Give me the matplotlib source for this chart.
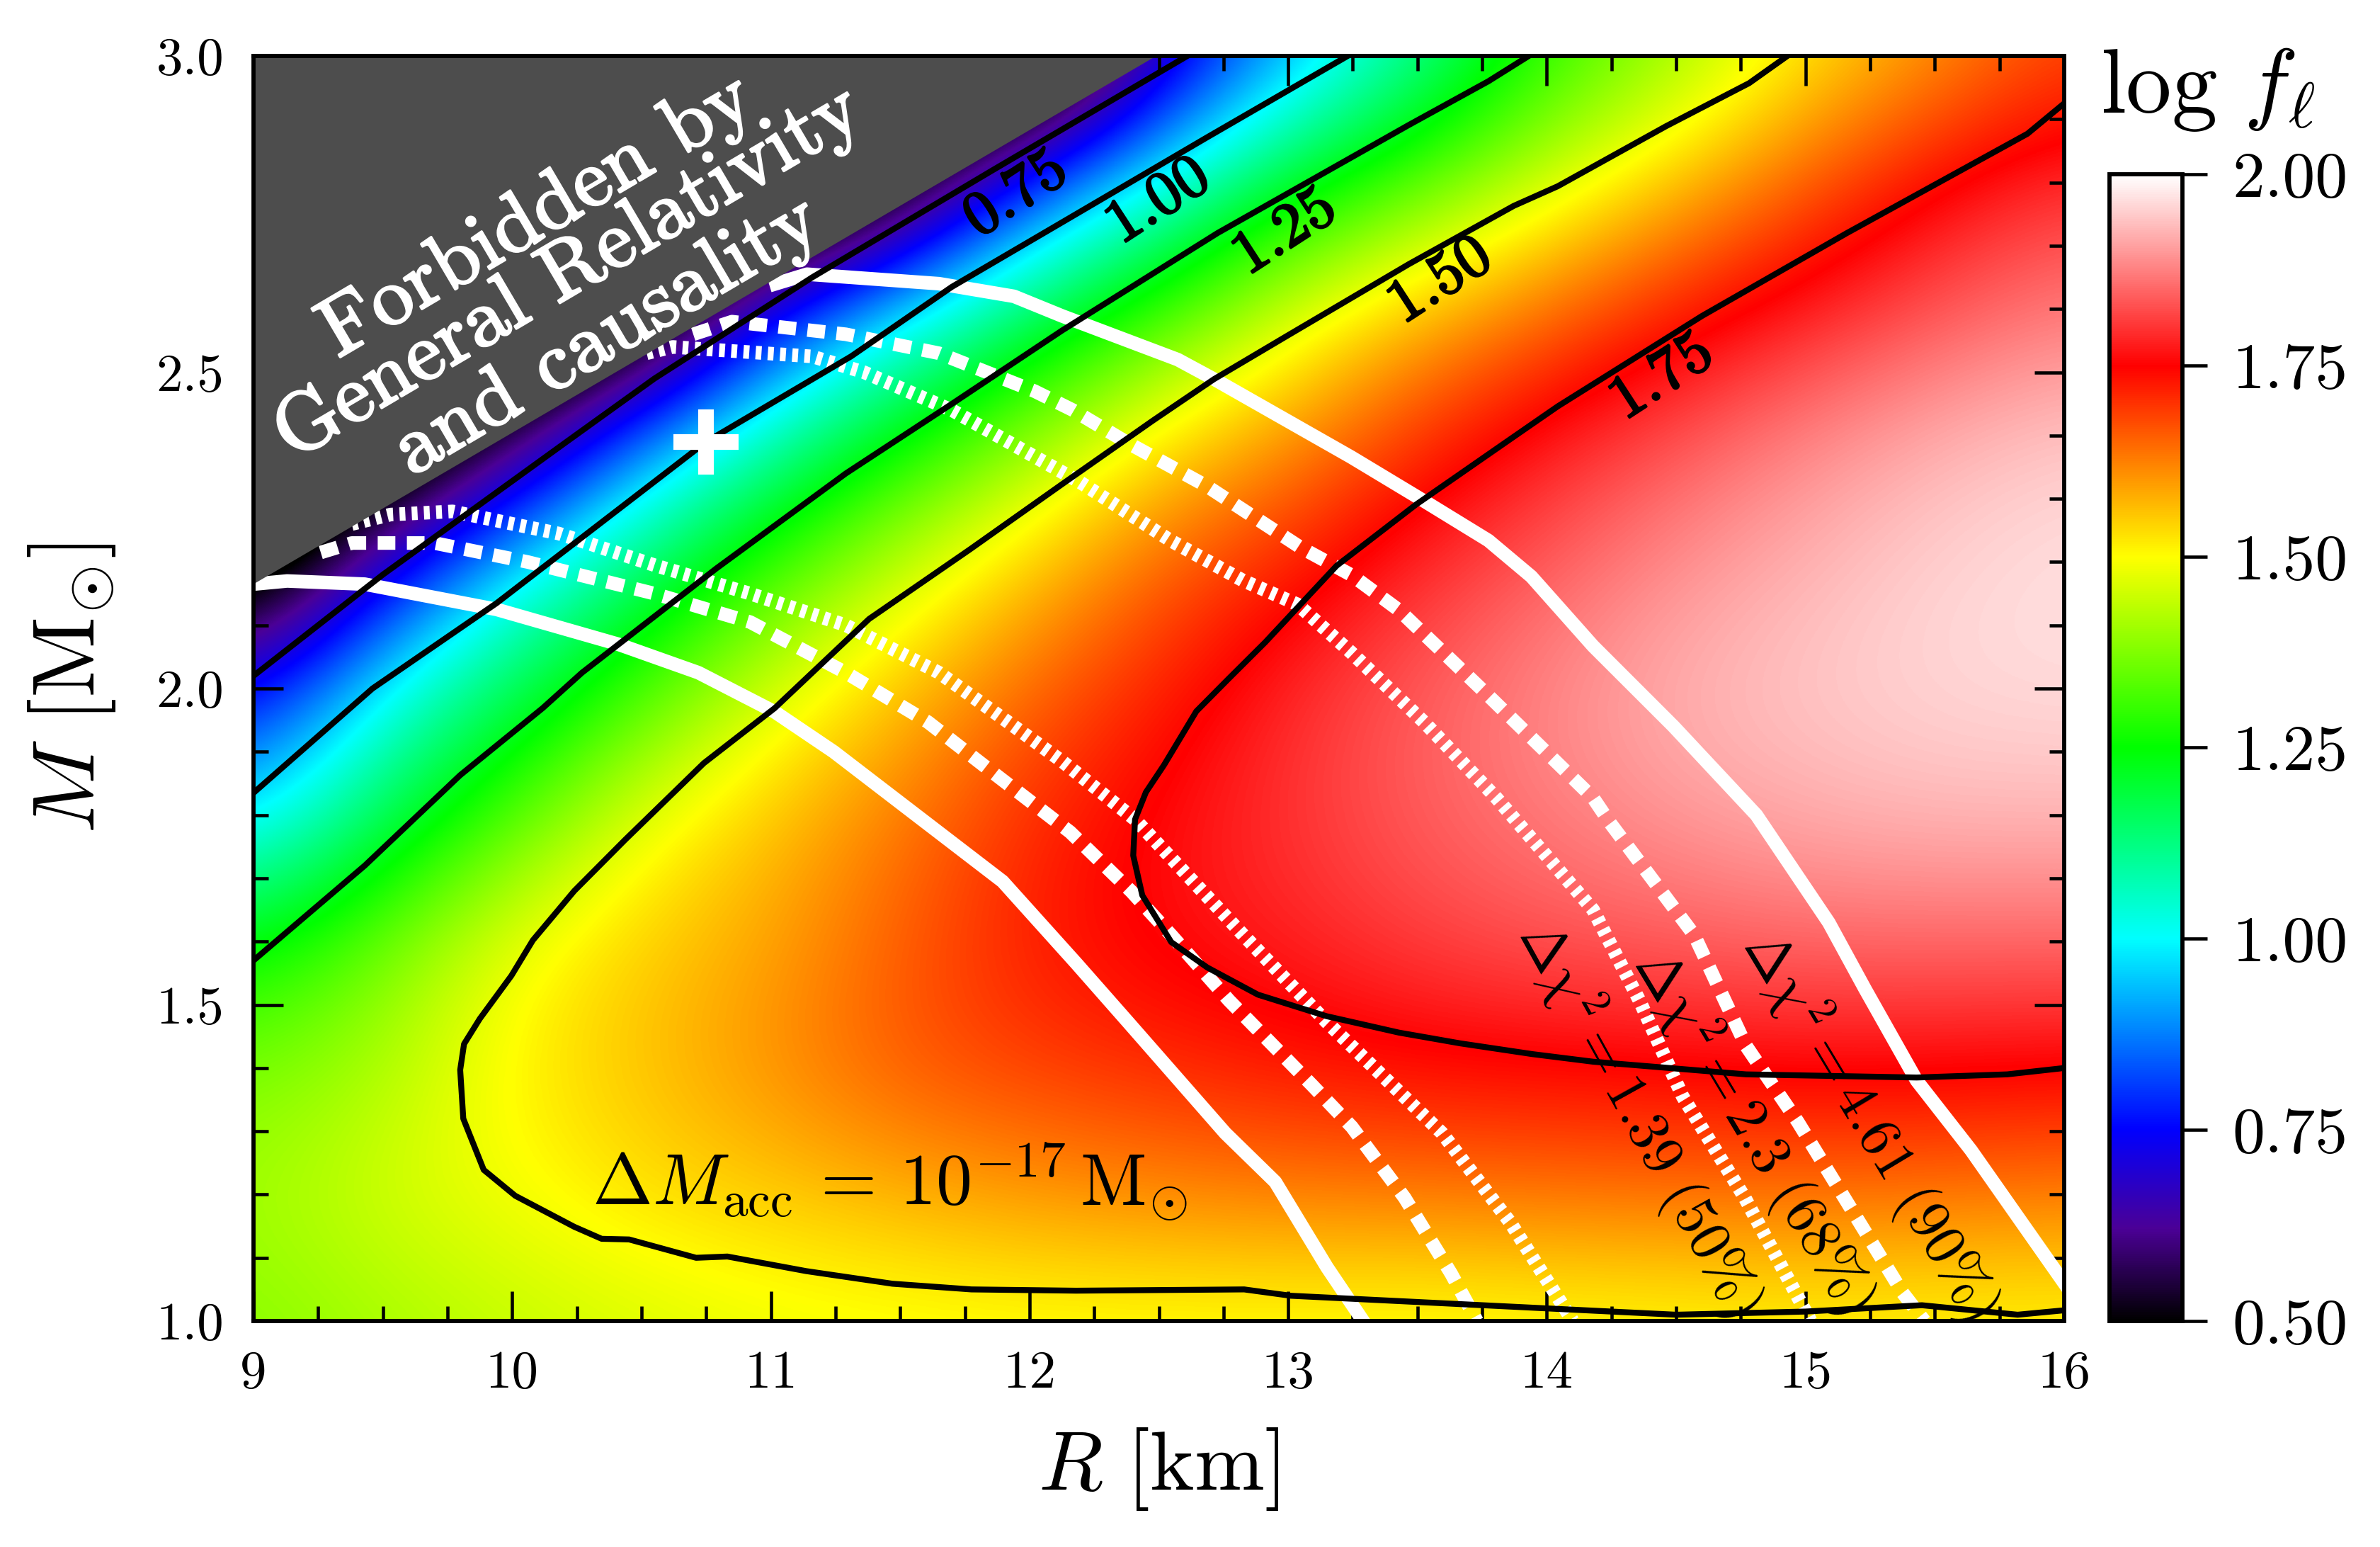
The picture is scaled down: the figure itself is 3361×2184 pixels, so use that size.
import matplotlib
matplotlib.use("Agg")
import matplotlib.pyplot as plt
import matplotlib.patheffects as pe
import numpy as np
from matplotlib.colors import LinearSegmentedColormap
from matplotlib.ticker import MultipleLocator

plt.rcParams["font.family"] = ["cmr10"]
plt.rcParams["mathtext.fontset"] = "cm"
plt.rcParams["axes.formatter.use_mathtext"] = True
plt.rcParams["axes.unicode_minus"] = False

# log f_l, rows go from M=1.0 up to M=3.0
# cells under the grey wedge are guesses that only set the slope towards its edge
radius_grid = [9, 9.5, 10, 10.5, 11, 11.5, 12, 12.5, 13, 13.5, 14, 14.5, 15, 15.5, 16]
mass_grid = [1.0, 1.2, 1.4, 1.6, 1.8, 2.0, 2.2, 2.4, 2.6, 2.8, 3.0]
log_f = [
    [1.38, 1.41, 1.44, 1.46, 1.48, 1.485, 1.49, 1.49, 1.49, 1.485, 1.49, 1.495, 1.50, 1.50, 1.50],
    [1.41, 1.46, 1.49, 1.53, 1.55, 1.575, 1.60, 1.615, 1.625, 1.63, 1.635, 1.64, 1.64, 1.635, 1.625],
    [1.37, 1.42, 1.515, 1.56, 1.61, 1.665, 1.69, 1.71, 1.73, 1.74, 1.745, 1.75, 1.755, 1.755, 1.75],
    [1.24, 1.36, 1.49, 1.55, 1.59, 1.66, 1.725, 1.76, 1.78, 1.81, 1.83, 1.84, 1.85, 1.85, 1.85],
    [0.97, 1.17, 1.33, 1.48, 1.56, 1.63, 1.71, 1.76, 1.80, 1.84, 1.87, 1.90, 1.92, 1.93, 1.93],
    [0.74, 1.01, 1.17, 1.32, 1.46, 1.56, 1.65, 1.72, 1.79, 1.84, 1.885, 1.925, 1.945, 1.96, 1.965],
    [0.35, 0.70, 0.97, 1.15, 1.31, 1.44, 1.55, 1.65, 1.72, 1.79, 1.84, 1.89, 1.925, 1.955, 1.97],
    [0.20, 0.30, 0.55, 0.87, 1.08, 1.25, 1.39, 1.52, 1.60, 1.70, 1.775, 1.83, 1.88, 1.92, 1.945],
    [0.20, 0.20, 0.20, 0.35, 0.75, 0.97, 1.16, 1.31, 1.46, 1.56, 1.64, 1.72, 1.78, 1.83, 1.87],
    [0.20, 0.20, 0.20, 0.20, 0.20, 0.45, 0.81, 1.02, 1.22, 1.34, 1.46, 1.56, 1.66, 1.75, 1.80],
    [0.20, 0.20, 0.20, 0.20, 0.20, 0.20, 0.25, 0.66, 0.91, 1.10, 1.29, 1.40, 1.52, 1.60, 1.68],
]

cmap_levels = [0.50, 0.62, 0.75, 1.00, 1.25, 1.50, 1.75, 2.00]
cmap_colors = ["#000000", "#4b0096", "#0000ff", "#00ffff", "#00ff00", "#ffff00", "#ff0000", "#ffffff"]

# black contours of log f_l
c075_r = [9.00, 9.50, 10.21, 10.55, 11.16, 11.86, 12.61]
c075_m = [2.02, 2.18, 2.39, 2.49, 2.65, 2.82, 3.00]
c100_r = [9.00, 9.46, 9.94, 10.75, 11.31, 11.70, 12.126, 12.685, 13.23]
c100_m = [1.835, 2.00, 2.135, 2.39, 2.525, 2.635, 2.737, 2.871, 3.00]
c125_r = [9.00, 9.43, 9.799, 10.118, 10.27, 10.79, 11.29, 11.70, 12.126, 12.727, 13.467, 13.774, 13.93]
c125_m = [1.57, 1.72, 1.863, 1.969, 2.025, 2.19, 2.34, 2.45, 2.566, 2.72, 2.891, 2.96, 3.00]
c150_r = [14.93, 14.782, 14.461, 14.042, 13.872, 13.467, 13.006, 12.713, 12.475, 12.126, 11.77, 11.38, 11.015,
          10.741, 10.437, 10.24, 10.08, 9.997, 9.875, 9.814, 9.799, 9.811, 9.89, 10.012, 10.24, 10.346, 10.452,
          10.711, 10.832, 11.136, 11.47, 11.775, 12.18, 12.83, 13.01, 14.00, 14.50, 15.00, 15.45, 15.82, 16.00]
c150_m = [3.00, 2.957, 2.889, 2.794, 2.763, 2.671, 2.56, 2.489, 2.423, 2.323, 2.22, 2.11, 1.969,
          1.882, 1.761, 1.68, 1.602, 1.546, 1.478, 1.438, 1.397, 1.32, 1.239, 1.198, 1.149, 1.13, 1.129,
          1.10, 1.102, 1.079, 1.059, 1.05, 1.048, 1.05, 1.04, 1.02, 1.01, 1.015, 1.025, 1.01, 1.017]
c175_r = [16.00, 15.858, 15.16, 14.60, 14.042, 13.858, 13.495, 13.187, 12.911, 12.771, 12.645, 12.52, 12.45, 12.408,
          12.401, 12.436, 12.548, 12.687, 12.883, 13.148, 13.428, 13.665, 13.944, 14.179, 14.77, 15.43, 15.78, 16.00]
c175_m = [2.925, 2.877, 2.72, 2.589, 2.446, 2.394, 2.291, 2.194, 2.073, 2.016, 1.964, 1.879, 1.836, 1.793,
          1.736, 1.673, 1.599, 1.559, 1.516, 1.482, 1.456, 1.439, 1.422, 1.41, 1.39, 1.385, 1.39, 1.40]
contour_labels = ["0.75", "1.00", "1.25", "1.50", "1.75"]
contour_label_r = [11.95, 12.50, 12.99, 13.59, 14.447]
contour_label_m = [2.78, 2.769, 2.72, 2.643, 2.491]

# white confidence contours, upper and lower branches
solid_up_r = [11.02, 11.14, 11.65, 11.94, 12.126, 12.573, 12.727, 13.243, 13.523, 13.774, 13.94, 14.179, 14.49, 14.81, 15.09, 15.23, 15.43, 15.64, 16.00]
solid_up_m = [2.64, 2.655, 2.64, 2.62, 2.589, 2.52, 2.486, 2.366, 2.297, 2.234, 2.177, 2.067, 1.94, 1.80, 1.63, 1.525, 1.38, 1.27, 1.06]
solid_lo_r = [9.00, 9.13, 9.43, 9.94, 10.41, 10.72, 11.015, 11.243, 11.638, 11.896, 12.182, 12.38, 12.757, 12.95, 13.15, 13.29]
solid_lo_m = [2.165, 2.17, 2.165, 2.125, 2.07, 2.025, 1.963, 1.90, 1.776, 1.695, 1.565, 1.473, 1.297, 1.22, 1.085, 1.00]
dash_up_r = [10.70, 10.85, 11.29, 11.65, 12.02, 12.168, 12.377, 12.685, 13.048, 13.246, 13.428, 13.763, 14.179, 14.24, 14.57, 14.77, 14.97, 15.375, 15.46]
dash_up_m = [2.56, 2.58, 2.56, 2.53, 2.47, 2.44, 2.389, 2.32, 2.223, 2.179, 2.124, 1.993, 1.827, 1.79, 1.61, 1.435, 1.315, 1.045, 1.00]
dash_lo_r = [9.26, 9.38, 9.70, 10.06, 10.55, 10.92, 11.29, 11.607, 11.881, 12.157, 12.394, 12.548, 12.771, 13.092, 13.246, 13.45, 13.63, 13.73]
dash_lo_m = [2.215, 2.23, 2.23, 2.20, 2.15, 2.105, 2.025, 1.947, 1.86, 1.773, 1.679, 1.61, 1.507, 1.373, 1.307, 1.195, 1.075, 1.00]
dot_up_r = [10.52, 10.62, 11.16, 11.36, 11.70, 12.196, 12.545, 12.824, 13.036, 13.246, 13.525, 13.805, 14.179, 14.36, 14.525, 14.765, 15.02]
dot_up_m = [2.53, 2.54, 2.525, 2.50, 2.44, 2.326, 2.234, 2.171, 2.133, 2.056, 1.947, 1.827, 1.65, 1.505, 1.355, 1.195, 1.00]
dot_lo_r = [9.38, 9.53, 9.77, 10.18, 10.55, 10.92, 11.29, 11.65, 11.927, 12.129, 12.408, 12.827, 13.148, 13.595, 13.86, 14.10]
dot_lo_m = [2.26, 2.275, 2.28, 2.245, 2.195, 2.15, 2.10, 2.025, 1.944, 1.884, 1.793, 1.61, 1.473, 1.297, 1.155, 1.00]

forbidden_r = [9, 12.49, 9]
forbidden_m = [2.165, 3.0, 3.0]
best_r = [10.75]
best_m = [2.39]

x_ticks = [9, 10, 11, 12, 13, 14, 15, 16]
y_ticks = [1.0, 1.5, 2.0, 2.5, 3.0]
cbar_ticks = [0.50, 0.75, 1.00, 1.25, 1.50, 1.75, 2.00]

W, H = 3361, 2184
fig = plt.figure(figsize=(W / 300, H / 300), dpi=300)
ax = fig.add_axes([358 / W, 1 - 1865 / H, (2915 - 358) / W, (1865 - 79) / H])
cax = fig.add_axes([2979 / W, 1 - 1865 / H, (3082 - 2979) / W, (1865 - 246) / H])

cmap = LinearSegmentedColormap.from_list(
    "logf", [((v - 0.5) / 1.5, c) for v, c in zip(cmap_levels, cmap_colors)], N=512)

dr = radius_grid[1] - radius_grid[0]
dm = mass_grid[1] - mass_grid[0]
im = ax.imshow(np.array(log_f), origin="lower", aspect="auto", cmap=cmap, vmin=0.5, vmax=2.0,
               interpolation="bicubic",
               extent=(radius_grid[0] - dr / 2, radius_grid[-1] + dr / 2,
                       mass_grid[0] - dm / 2, mass_grid[-1] + dm / 2))

white_lw = 4.6
ax.plot(solid_up_r, solid_up_m, color="white", lw=white_lw, zorder=3)
ax.plot(solid_lo_r, solid_lo_m, color="white", lw=white_lw, zorder=3)
dash_style = (0, (1.3, 0.85))
ax.plot(dash_up_r, dash_up_m, color="white", lw=white_lw, ls=dash_style, dash_capstyle="butt", zorder=3)
ax.plot(dash_lo_r, dash_lo_m, color="white", lw=white_lw, ls=dash_style, dash_capstyle="butt", zorder=3)
dot_style = (0, (0.43, 0.47))
ax.plot(dot_up_r, dot_up_m, color="white", lw=white_lw, ls=dot_style, dash_capstyle="butt", zorder=3)
ax.plot(dot_lo_r, dot_lo_m, color="white", lw=white_lw, ls=dot_style, dash_capstyle="butt", zorder=3)

ax.fill(forbidden_r, forbidden_m, color="#4d4d4d", lw=0, zorder=4)

for r, m in [(c075_r, c075_m), (c100_r, c100_m), (c125_r, c125_m), (c150_r, c150_m), (c175_r, c175_m)]:
    ax.plot(r, m, color="black", lw=2.0, zorder=5)

ax.plot(best_r, best_m, marker="+", ms=22, mew=5.3, color="white", ls="none", zorder=6)

for lab, r, m in zip(contour_labels, contour_label_r, contour_label_m):
    ax.text(r, m, lab, fontsize=21, rotation=33, ha="center", va="center", zorder=7,
            path_effects=[pe.withStroke(linewidth=0.7, foreground="black")])

for txt, r, m in [("Forbidden by", 10.10, 2.745), ("General Relativity", 10.22, 2.655), ("and causality", 10.37, 2.555)]:
    ax.text(r, m, txt, color="white", fontsize=28, rotation=30.5, ha="center", va="center",
            rotation_mode="anchor", zorder=7,
            path_effects=[pe.withStroke(linewidth=0.8, foreground="white")])

for txt, r, m, rot in [(r"$\Delta\chi^2=1.39\ (50\%)$", 14.36, 1.32, -61),
                       (r"$\Delta\chi^2=2.3\ (68\%)$", 14.80, 1.30, -59),
                       (r"$\Delta\chi^2=4.61\ (90\%)$", 15.25, 1.31, -59)]:
    ax.text(r, m, txt, fontsize=19.5, rotation=rot, ha="center", va="center", rotation_mode="anchor", zorder=7)

ax.text(11.46, 1.22, r"$\Delta M_{\rm acc}\,=\,10^{-17}\,{\rm M}_{\odot}$", fontsize=24.5,
        ha="center", va="center", zorder=7)

ax.set_xlim(9, 16)
ax.set_ylim(1, 3)
ax.set_xticks(x_ticks)
ax.set_xticklabels([str(t) for t in x_ticks])
ax.set_yticks(y_ticks)
ax.set_yticklabels([f"{t:.1f}" for t in y_ticks])
ax.xaxis.set_minor_locator(MultipleLocator(0.25))
ax.yaxis.set_minor_locator(MultipleLocator(0.1))
ax.tick_params(which="major", direction="in", top=True, right=True, length=10, width=1.1, labelsize=18, pad=10)
ax.tick_params(which="minor", direction="in", top=True, right=True, length=5, width=1.1)
for s in ax.spines.values():
    s.set_linewidth(1.4)
    s.set_zorder(8)

ax.set_xlabel(r"$R\ [{\rm km}]$", fontsize=28.5)
ax.xaxis.set_label_coords(0.5, -0.083)
ax.set_ylabel(r"$M\ [{\rm M}_{\odot}]$", fontsize=30)
ax.yaxis.set_label_coords(-0.075, 0.5)

cb = fig.colorbar(im, cax=cax, ticks=cbar_ticks)
cb.ax.set_yticklabels([f"{t:.2f}" for t in cbar_ticks])
cb.ax.tick_params(direction="out", length=8.4, width=1.1, labelsize=22, pad=8.5)
cb.ax.minorticks_off()
cb.outline.set_linewidth(1.4)
fig.text(3118 / W, 1 - 126 / H, r"$\log\,f_{\ell}$", fontsize=31, ha="center", va="center")

fig.savefig("out.png", dpi=300)
